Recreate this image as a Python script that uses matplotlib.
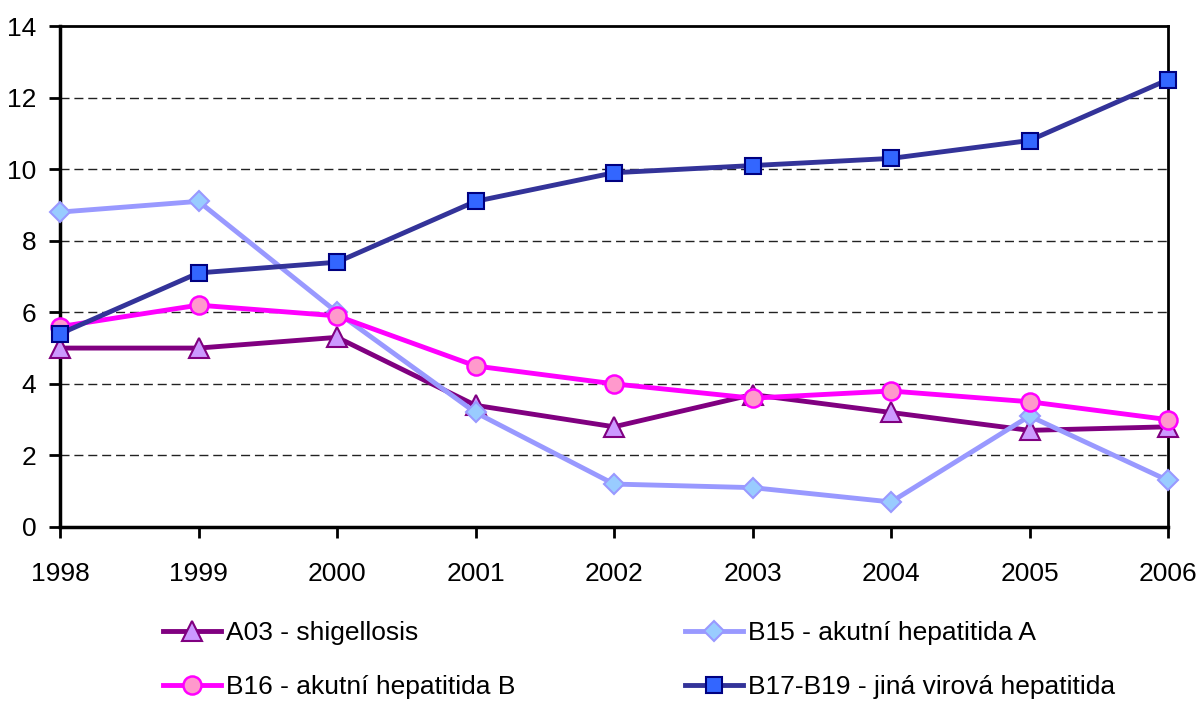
import matplotlib
matplotlib.use("Agg")
import matplotlib.pyplot as plt

plt.rcParams['font.family'] = ['Liberation Sans Narrow', 'Liberation Sans', 'DejaVu Sans']

years = [1998, 1999, 2000, 2001, 2002, 2003, 2004, 2005, 2006]
a03 = [5.0, 5.0, 5.3, 3.4, 2.8, 3.7, 3.2, 2.7, 2.8]
b15 = [8.8, 9.1, 6.0, 3.2, 1.2, 1.1, 0.7, 3.1, 1.3]
b16 = [5.6, 6.2, 5.9, 4.5, 4.0, 3.6, 3.8, 3.5, 3.0]
b17 = [5.4, 7.1, 7.4, 9.1, 9.9, 10.1, 10.3, 10.8, 12.5]
labels = ["A03 - shigellosis", "B15 - akutní hepatitida A",
          "B16 - akutní hepatitida B", "B17-B19 - jiná virová hepatitida"]
yticks = [0, 2, 4, 6, 8, 10, 12, 14]

fig = plt.figure(figsize=(11.98, 7.04), dpi=100)
ax = fig.add_axes([60 / 1198, 1 - 527 / 704, 1108 / 1198, 501 / 704])

l1, = ax.plot(years, a03, color='#800080', lw=3.5, marker='^', ms=14,
              mfc='#CC99FF', mec='#800080', mew=1.5, clip_on=False, zorder=3)
l2, = ax.plot(years, b15, color='#9999FF', lw=3.5, marker='D', ms=10.5,
              mfc='#99CCFF', mec='#9999FF', mew=1.5, clip_on=False, zorder=4)
l3, = ax.plot(years, b16, color='#FF00FF', lw=3.5, marker='o', ms=13,
              mfc='#FF99CC', mec='#FF00FF', mew=1.8, clip_on=False, zorder=5)
l4, = ax.plot(years, b17, color='#333399', lw=3.5, marker='s', ms=11,
              mfc='#3366FF', mec='#000080', mew=1.5, clip_on=False, zorder=6)

ax.set_xlim(1998, 2006)
ax.set_ylim(0, 14)
ax.set_xticks(years)
ax.set_yticks(yticks)
for y in yticks[1:-1]:
    ax.axhline(y, color='#222222', lw=1, ls=(0, (6.5, 3.5)), zorder=1)

for s in ['left', 'bottom']:
    ax.spines[s].set_linewidth(2.5)
for s in ['top', 'right']:
    ax.spines[s].set_linewidth(2)
ax.tick_params(axis='both', labelsize=19, length=8, width=2, direction='out')
ax.tick_params(axis='x', pad=17)
ax.tick_params(axis='y', pad=9)

leg_kw = dict(frameon=False, fontsize=19, handlelength=2.2, handletextpad=0.2,
              labelspacing=1.15, borderpad=0, borderaxespad=0, loc='upper left')
fig.legend([l1, l3], [labels[0], labels[2]],
           bbox_to_anchor=(163 / 1198, 1 - 621 / 704), **leg_kw)
fig.legend([l2, l4], [labels[1], labels[3]],
           bbox_to_anchor=(685 / 1198, 1 - 621 / 704), **leg_kw)

fig.savefig("out.png", dpi=100)
